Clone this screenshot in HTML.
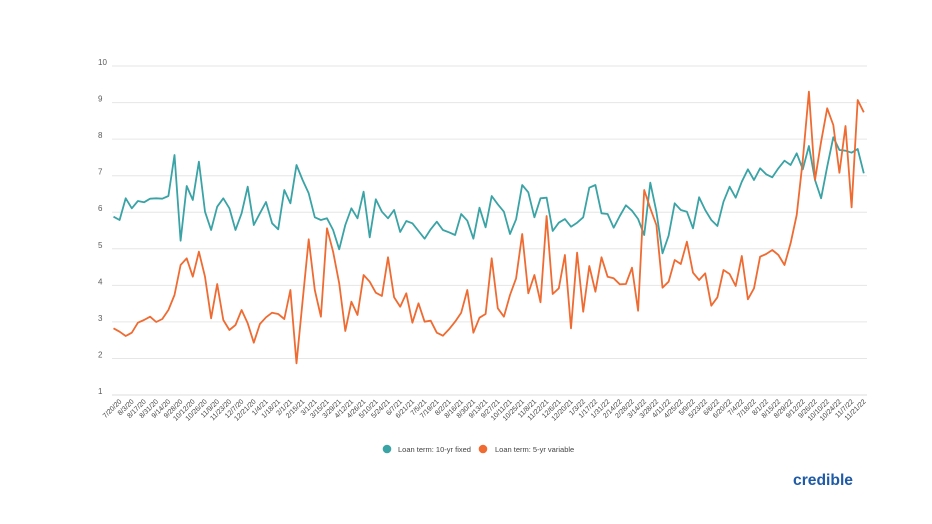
<!DOCTYPE html>
<html>
<head>
<meta charset="utf-8">
<style>
  html,body{margin:0;padding:0;background:#fff;}
  body{width:932px;height:524px;overflow:hidden;}
  svg{display:block;}
  .yl{font-family:"Liberation Sans",sans-serif;font-size:8px;fill:#5a5a5a;}
  .xl{font-family:"Liberation Sans",sans-serif;font-size:7px;fill:#444;}
  .lg{font-family:"Liberation Sans",sans-serif;font-size:7.5px;fill:#444;}
</style>
</head>
<body>
<svg width="932" height="524" viewBox="0 0 932 524" xmlns="http://www.w3.org/2000/svg">
  <rect width="932" height="524" fill="#fff"/>
  <g stroke="#e6e6e6" stroke-width="1">
    <line x1="112" y1="66.05" x2="867" y2="66.05"/>
    <line x1="112" y1="102.6" x2="867" y2="102.6"/>
    <line x1="112" y1="139.15" x2="867" y2="139.15"/>
    <line x1="112" y1="175.7" x2="867" y2="175.7"/>
    <line x1="112" y1="212.25" x2="867" y2="212.25"/>
    <line x1="112" y1="248.8" x2="867" y2="248.8"/>
    <line x1="112" y1="285.35" x2="867" y2="285.35"/>
    <line x1="112" y1="321.9" x2="867" y2="321.9"/>
    <line x1="112" y1="358.45" x2="867" y2="358.45"/>
    <line x1="112" y1="395" x2="867" y2="395" stroke="#dcdcdc"/>
  </g>
  <g class="yl">
    <text x="98" y="65">10</text>
    <text x="98" y="101.6">9</text>
    <text x="98" y="138.1">8</text>
    <text x="98" y="174.7">7</text>
    <text x="98" y="211.2">6</text>
    <text x="98" y="247.8">5</text>
    <text x="98" y="284.3">4</text>
    <text x="98" y="320.9">3</text>
    <text x="98" y="357.4">2</text>
    <text x="98" y="394">1</text>
  </g>

  <g transform="translate(113.5,0) scale(6.1,1)">
    <polyline fill="none" stroke="#3aa3a6" stroke-width="1.8" stroke-linejoin="round" vector-effect="non-scaling-stroke"
      points="0,216.7 1,220 2,198.3 3,208.3 4,201 5,202.3 6,198.7 7,198.3 8,198.7 9,196 10,155 11,240.7 12,186 13,200 14,161.7 15,211.7 16,230 17,206.7 18,198.3 19,208.3 20,230 21,213.3 22,186.7 23,225 24,213.3 25,202 26,223.3 27,229.3 28,190 29,203.3 30,165 31,180 32,193.3 33,217.3 34,220 35,218.3 36,230 37,249.3 38,225 39,208.3 40,218.3 41,191.7 42,237.3 43,199.3 44,211.7 45,218.3 46,210 47,232 48,221 49,223.3 50,231 51,238.7 52,229.3 53,221.7 54,230 55,232.3 56,235 57,214 58,220.7 59,238.7 60,207.7 61,227.3 62,196 63,204.3 64,211.7 65,234 66,219.3 67,185 68,192.3 69,217.3 70,198.3 71,197.7 72,231 73,222.7 74,219 75,226.7 76,222.7 77,217.3 78,187.7 79,185 80,213.3 81,214 82,227.7 83,216 84,205.3 85,210.7 86,219 87,235 88,182.7 89,211.7 90,253.3 91,235.7 92,203.3 93,210 94,211.7 95,228.3 96,197.3 97,210 98,220 99,226 100,201.7 101,186.7 102,197.7 103,181.7 104,169.3 105,180 106,168.3 107,174.3 108,177.3 109,168.3 110,160.7 111,165 112,153.3 113,169.3 114,146 115,180 116,198.3 117,166.7 118,137.3 119,150 120,150.7 121,152.7 122,149 123,173.3"/>
    <polyline fill="none" stroke="#ef6b32" stroke-width="1.8" stroke-linejoin="round" vector-effect="non-scaling-stroke"
      points="0,328.3 1,331.7 2,336 3,332.7 4,322.7 5,320 6,316.7 7,322 8,319 9,310 10,295 11,265 12,258.3 13,276.7 14,251.7 15,276.7 16,318.3 17,284 18,320 19,330 20,325 21,310 22,323.3 23,342.7 24,324 25,317.3 26,312.7 27,314 28,319 29,290 30,363.3 31,301 32,239.3 33,290 34,316.7 35,228.3 36,251.7 37,283.3 38,331 39,301.7 40,315 41,275 42,281.7 43,292.7 44,296 45,257.3 46,297.3 47,306.7 48,293.3 49,322.7 50,303.3 51,321.7 52,320.7 53,332.7 54,335.7 55,329.3 56,321.7 57,312.7 58,290 59,332.7 60,317.7 61,314 62,258.3 63,308.3 64,316.7 65,295 66,278.3 67,234 68,293.3 69,275 70,302.3 71,216 72,294 73,288.3 74,255 75,328.3 76,252.7 77,311.7 78,266 79,291.7 80,257.3 81,276.7 82,278.3 83,284.3 84,284 85,267.7 86,310.7 87,190 88,208.3 89,225 90,287.7 91,281.7 92,260 93,264 94,241.7 95,272.7 96,280 97,273.3 98,305.7 99,297.3 100,270 101,274 102,286 103,256 104,299.3 105,288.3 106,256.7 107,254 108,250 109,255 110,265 111,243.3 112,215 113,160 114,91.7 115,180 116,141.7 117,108.3 118,125 119,172.7 120,126 121,207.3 122,100 123,112.3"/>
  </g>

  <g class="xl" text-anchor="end">
    <text transform="translate(122,402) rotate(-45)">7/20/20</text>
    <text transform="translate(134.2,402) rotate(-45)">8/3/20</text>
    <text transform="translate(146.4,402) rotate(-45)">8/17/20</text>
    <text transform="translate(158.6,402) rotate(-45)">8/31/20</text>
    <text transform="translate(170.8,402) rotate(-45)">9/14/20</text>
    <text transform="translate(183,402) rotate(-45)">9/28/20</text>
    <text transform="translate(195.2,402) rotate(-45)">10/12/20</text>
    <text transform="translate(207.4,402) rotate(-45)">10/26/20</text>
    <text transform="translate(219.6,402) rotate(-45)">11/9/20</text>
    <text transform="translate(231.8,402) rotate(-45)">11/23/20</text>
    <text transform="translate(244,402) rotate(-45)">12/7/20</text>
    <text transform="translate(256.2,402) rotate(-45)">12/21/20</text>
    <text transform="translate(268.4,402) rotate(-45)">1/4/21</text>
    <text transform="translate(280.6,402) rotate(-45)">1/18/21</text>
    <text transform="translate(292.8,402) rotate(-45)">2/1/21</text>
    <text transform="translate(305,402) rotate(-45)">2/15/21</text>
    <text transform="translate(317.2,402) rotate(-45)">3/1/21</text>
    <text transform="translate(329.4,402) rotate(-45)">3/15/21</text>
    <text transform="translate(341.6,402) rotate(-45)">3/29/21</text>
    <text transform="translate(353.8,402) rotate(-45)">4/12/21</text>
    <text transform="translate(366,402) rotate(-45)">4/26/21</text>
    <text transform="translate(378.2,402) rotate(-45)">5/10/21</text>
    <text transform="translate(390.4,402) rotate(-45)">5/24/21</text>
    <text transform="translate(402.6,402) rotate(-45)">6/7/21</text>
    <text transform="translate(414.8,402) rotate(-45)">6/21/21</text>
    <text transform="translate(427,402) rotate(-45)">7/5/21</text>
    <text transform="translate(439.2,402) rotate(-45)">7/19/21</text>
    <text transform="translate(451.4,402) rotate(-45)">8/2/21</text>
    <text transform="translate(463.6,402) rotate(-45)">8/16/21</text>
    <text transform="translate(475.8,402) rotate(-45)">8/30/21</text>
    <text transform="translate(488,402) rotate(-45)">9/13/21</text>
    <text transform="translate(500.2,402) rotate(-45)">9/27/21</text>
    <text transform="translate(512.4,402) rotate(-45)">10/11/21</text>
    <text transform="translate(524.6,402) rotate(-45)">10/25/21</text>
    <text transform="translate(536.8,402) rotate(-45)">11/8/21</text>
    <text transform="translate(549,402) rotate(-45)">11/22/21</text>
    <text transform="translate(561.2,402) rotate(-45)">12/6/21</text>
    <text transform="translate(573.4,402) rotate(-45)">12/20/21</text>
    <text transform="translate(585.6,402) rotate(-45)">1/3/22</text>
    <text transform="translate(597.8,402) rotate(-45)">1/17/22</text>
    <text transform="translate(610,402) rotate(-45)">1/31/22</text>
    <text transform="translate(622.2,402) rotate(-45)">2/14/22</text>
    <text transform="translate(634.4,402) rotate(-45)">2/28/22</text>
    <text transform="translate(646.6,402) rotate(-45)">3/14/22</text>
    <text transform="translate(658.8,402) rotate(-45)">3/28/22</text>
    <text transform="translate(671,402) rotate(-45)">4/11/22</text>
    <text transform="translate(683.2,402) rotate(-45)">4/25/22</text>
    <text transform="translate(695.4,402) rotate(-45)">5/9/22</text>
    <text transform="translate(707.6,402) rotate(-45)">5/23/22</text>
    <text transform="translate(719.8,402) rotate(-45)">6/6/22</text>
    <text transform="translate(732,402) rotate(-45)">6/20/22</text>
    <text transform="translate(744.2,402) rotate(-45)">7/4/22</text>
    <text transform="translate(756.4,402) rotate(-45)">7/18/22</text>
    <text transform="translate(768.6,402) rotate(-45)">8/1/22</text>
    <text transform="translate(780.8,402) rotate(-45)">8/15/22</text>
    <text transform="translate(793,402) rotate(-45)">8/29/22</text>
    <text transform="translate(805.2,402) rotate(-45)">9/12/22</text>
    <text transform="translate(817.4,402) rotate(-45)">9/26/22</text>
    <text transform="translate(829.6,402) rotate(-45)">10/10/22</text>
    <text transform="translate(841.8,402) rotate(-45)">10/24/22</text>
    <text transform="translate(854,402) rotate(-45)">11/7/22</text>
    <text transform="translate(866.2,402) rotate(-45)">11/21/22</text>
  </g>

  <circle cx="387" cy="449" r="4.3" fill="#3aa3a6"/>
  <text class="lg" x="398" y="451.8">Loan term: 10-yr fixed</text>
  <circle cx="483" cy="449" r="4.3" fill="#ef6b32"/>
  <text class="lg" x="495" y="451.8">Loan term: 5-yr variable</text>

  <text x="793" y="485" font-family="Liberation Sans, sans-serif" font-weight="bold" font-size="16" fill="#1f5aa6" textLength="60" lengthAdjust="spacingAndGlyphs">credible</text>
</svg>
</body>
</html>
